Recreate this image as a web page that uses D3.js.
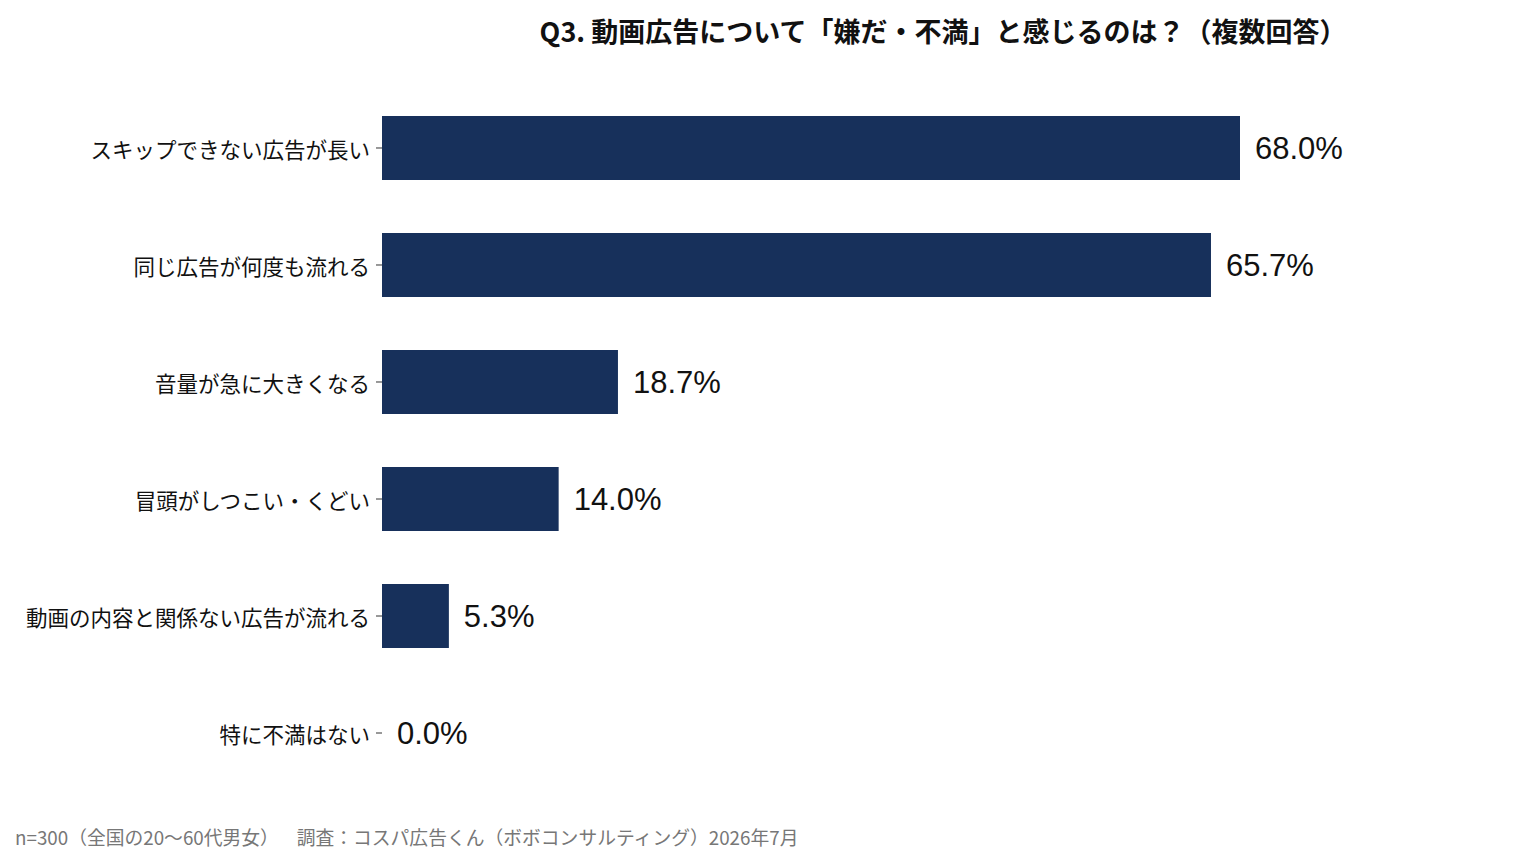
<!DOCTYPE html>
<html>
<head>
<meta charset="utf-8">
<script src="https://cdn.jsdelivr.net/npm/d3@7"></script>
<style>
  body { margin: 0; background: #fff; }
  svg { display: block; }
</style>
</head>
<body>
<div id="chart_area"></div>
<script>
// data
var categories = [
  "スキップできない広告が長い",
  "同じ広告が何度も流れる",
  "音量が急に大きくなる",
  "冒頭がしつこい・くどい",
  "動画の内容と関係ない広告が流れる",
  "特に不満はない"
];
var values = [68.0, 65.7, 18.7, 14.0, 5.3, 0.0];

var title_text = "Q3. 動画広告について「嫌だ・不満」と感じるのは？（複数回答）";
var footer_text = "n=300（全国の20〜60代男女）　  調査：コスパ広告くん（ボボコンサルティング）2026年7月";

var frame_width = 1536, frame_height = 858;
var margin = {top: 116, left: 382};
var bar_colour = "#17305b";
var jp_font = "'Noto Sans CJK JP', 'Noto Sans', sans-serif";

var frame = d3.select("#chart_area").append("svg")
  .attr("width", frame_width)
  .attr("height", frame_height);

var canvas = frame.append("g")
  .attr("transform", "translate(" + margin.left + "," + margin.top + ")");

var rows = categories.map(function (c, i) { return {name: c, value: values[i]}; });

// 68% ends at x=1240
var xScale = d3.scaleLinear().domain([0, 68]).range([0, 858]);
var yScale = d3.scaleBand()
  .domain(categories)
  .range([0, 649])
  .paddingInner(0.453)
  .paddingOuter(0);

// y axis with short ticks, no domain line
var yAxis = d3.axisLeft(yScale).tickSize(6).tickPadding(6);
var gy = canvas.append("g").attr("class", "y axis").call(yAxis);
gy.select(".domain").remove();
gy.selectAll(".tick line").attr("stroke", "#333");
gy.selectAll(".tick text")
  .attr("font-family", jp_font)
  .attr("font-size", 21.5)
  .attr("dy", "0.45em")
  .attr("fill", "#111");

canvas.selectAll(".bar")
  .data(rows)
  .enter().append("rect")
  .attr("class", "bar")
  .attr("x", 0)
  .attr("y", function (d) { return yScale(d.name); })
  .attr("width", function (d) { return xScale(d.value); })
  .attr("height", yScale.bandwidth())
  .attr("fill", bar_colour);

canvas.selectAll(".val")
  .data(rows)
  .enter().append("text")
  .attr("class", "val")
  .attr("x", function (d) { return xScale(d.value) + 15; })
  .attr("y", function (d) { return yScale(d.name) + yScale.bandwidth() / 2; })
  .attr("dy", "0.36em")
  .attr("font-family", "'Liberation Sans', Arial, sans-serif")
  .attr("font-size", 31)
  .attr("fill", "#111")
  .text(function (d) { return d.value.toFixed(1) + "%"; });

frame.append("text")
  .attr("x", 943)
  .attr("y", 42)
  .attr("text-anchor", "middle")
  .attr("font-family", jp_font)
  .attr("font-weight", "bold")
  .attr("font-size", 27)
  .attr("fill", "#111")
  .text(title_text);

frame.append("text")
  .attr("x", 15)
  .attr("y", 845)
  .attr("font-family", jp_font)
  .attr("font-size", 18.8)
  .attr("fill", "#777")
  .attr("xml:space", "preserve")
  .style("white-space", "pre")
  .text(footer_text);
</script>
</body>
</html>
